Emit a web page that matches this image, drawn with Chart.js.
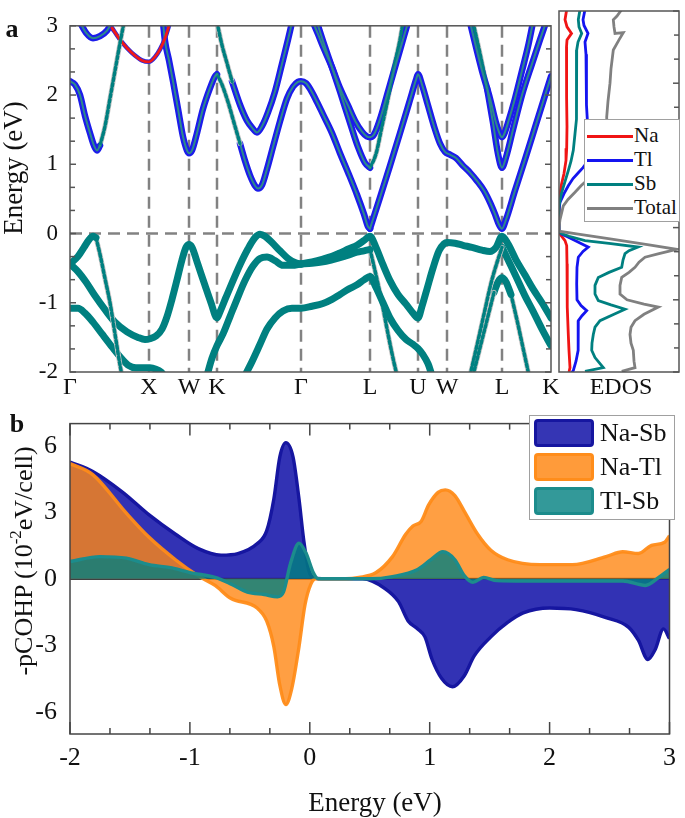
<!DOCTYPE html>
<html>
<head>
<meta charset="utf-8">
<script src="https://cdn.jsdelivr.net/npm/chart.js@4.4.0/dist/chart.umd.min.js"></script>
<style>
  body { margin: 0; background: #fff; width: 685px; height: 818px; position: relative; overflow: hidden; }
  canvas { position: absolute; }
  .lbl { position: absolute; font-family: "Liberation Serif", "Times New Roman", Times, serif; color: #111; white-space: nowrap; line-height: 1; }
  .rot { transform: translate(-50%, -50%) rotate(-90deg); }
  .ctr { transform: translate(-50%, -50%); }
  .legend { position: absolute; background: #fff; border: 1px solid #a0a0a0; }
  .legend .ln { position: absolute; height: 3px; }
  .legend .sw { position: absolute; box-sizing: border-box; border-width: 3px; border-style: solid; border-radius: 4px; }
  .legend .tx { position: absolute; font-family: "Liberation Serif", "Times New Roman", Times, serif; color: #111; line-height: 1; }
</style>
</head>
<body>
<canvas id="bandChart" width="685" height="400" style="left:0;top:0"></canvas>
<canvas id="dosChart" width="130" height="400" style="left:555px;top:0"></canvas>
<canvas id="cohpChart" width="685" height="423" style="left:0;top:395px"></canvas>

<div class="lbl ctr" style="left:12px;top:29px;font-size:26px;font-weight:bold">a</div>
<div class="lbl ctr" style="left:17px;top:424px;font-size:26px;font-weight:bold">b</div>
<div class="lbl rot" style="left:13px;top:168px;font-size:27px">Energy (eV)</div>
<div class="lbl ctr" style="left:621px;top:386px;font-size:24px">EDOS</div>
<div class="lbl rot" style="left:22px;top:561px;font-size:26px">-pCOHP (10<sup style="font-size:17px;vertical-align:11px">-2</sup>eV/cell)</div>
<div class="lbl ctr" style="left:375px;top:802px;font-size:27px">Energy (eV)</div>

<div class="legend" id="dosLegend" style="left:584px;top:119px;width:94px;height:101px"></div>
<div class="legend" id="cohpLegend" style="left:529px;top:415px;width:144px;height:103px"></div>

<script>
// ---- band structure: k path (px-like units along the path) and labels
const kPos = [0, 79, 119, 147, 231, 300, 348, 377, 432, 481];
const kLabels = ['Γ', 'X', 'W', 'K', 'Γ', 'L', 'U', 'W', 'L', 'K'];
const bandYTicks = [-2, -1, 0, 1, 2, 3];

// conduction bands [k, E]
const cbGXtop = [[10,3.05],[16,2.9],[23,2.82],[30,2.85],[37,2.93],[42,3.05]];
const cbGX = [[0,2.2],[5,2.15],[10,2.0],[15,1.7],[20,1.45],[24,1.27],[27,1.2],[30,1.27]];
const dotGX = [[30,1.27],[35,1.55],[40,1.95],[45,2.35],[50,2.75],[54,3.05]];
const redX = [[42,2.97],[50,2.8],[57,2.68],[65,2.57],[72,2.5],[79,2.48],[85,2.55],[90,2.66],[95,2.82],[100,3.05]];
const cbXWK = [[93,3.05],[95,2.78],[99,2.5],[103,2.2],[108,1.8],[113,1.4],[117,1.2],[119,1.16],[122,1.2],[127,1.45],[133,1.8],[140,2.1],[145,2.27],[147,2.3]];
const dotKG = [[147,2.3],[152,2.15],[158,1.9],[164,1.6],[170,1.3]];
const cbKGL = [[170,1.3],[175,1.05],[180,0.84],[185,0.69],[188,0.65],[192,0.7],[197,0.93],[203,1.25],[210,1.62],[217,1.95],[223,2.12],[228,2.19],[231,2.2],[236,2.17],[240,2.09],[247,1.9],[253,1.72],[262,1.45],[270,1.16],[279,0.85],[287,0.56],[294,0.28],[298,0.1],[300,0.07]];
const cbLUWLK = [[300,0.07],[310,0.52],[320,0.98],[330,1.45],[340,1.93],[346,2.22],[348,2.3],[352,2.15],[358,1.85],[364,1.55],[370,1.3],[375,1.18],[380,1.14],[386,1.09],[393,0.98],[400,0.88],[407,0.76],[414,0.62],[420,0.45],[425,0.28],[429,0.13],[432,0.07],[436,0.2],[445,0.62],[455,1.07],[465,1.53],[473,1.9],[481,2.27]];
const dotKtop = [[147,3.05],[152,2.72],[157,2.46],[162,2.2]];
const cbKG2 = [[162,2.2],[170,1.86],[177,1.63],[182,1.53],[187,1.46],[192,1.55],[198,1.75],[205,2.05],[212,2.45],[218,2.8],[222,3.05]];
const cbGL2 = [[243,3.05],[248,2.88],[253,2.7],[262,2.4],[270,2.1],[278,1.85],[285,1.63],[292,1.47],[297,1.4],[300,1.39],[304,1.43],[310,1.65],[318,2.05],[326,2.45],[334,2.85],[338,3.05]];
const cbGL3 = [[247,3.05],[253,2.78],[262,2.4],[270,2.05],[280,1.6],[288,1.25],[295,1.02],[300,0.95]];
const dotLU3 = [[300,0.95],[306,1.15],[312,1.55],[318,1.95],[324,2.4],[330,2.8],[333,3.05]];
const cbL2a = [[400,3.05],[405,2.75],[412,2.35],[420,1.95],[426,1.6],[430,1.43],[432,1.39],[434,1.43],[438,1.6],[445,1.95],[452,2.35],[458,2.7],[463,3.05]];
const dotL2b = [[403,3.05],[410,2.6],[417,2.1]];
const cbL2b = [[417,2.1],[423,1.6],[428,1.15],[432,0.95],[436,1.1],[443,1.5],[452,2.0],[462,2.45],[470,2.8],[476,3.05]];

// valence bands [k, E]
const vbGX = [[0,-0.44],[8,-0.33],[14,-0.2],[19,-0.09],[23,-0.04],[26,-0.06]];
const dotGXv = [[26,-0.06],[30,-0.3],[35,-0.65],[40,-1.0],[45,-1.45],[50,-1.9],[52,-2.05]];
const vbGXWKG = [[0,-0.44],[8,-0.55],[16,-0.7],[25,-0.9],[35,-1.1],[45,-1.28],[57,-1.42],[68,-1.5],[75,-1.53],[80,-1.52],[86,-1.48],[92,-1.38],[97,-1.2],[102,-0.95],[107,-0.67],[112,-0.38],[116,-0.2],[119,-0.16],[122,-0.2],[128,-0.45],[135,-0.75],[141,-1.0],[147,-1.22],[150,-1.13],[156,-0.92],[163,-0.68],[170,-0.45],[178,-0.22],[185,-0.06],[190,-0.01],[195,-0.04],[202,-0.13],[210,-0.25],[218,-0.36],[225,-0.42],[231,-0.44]];
const vbKG = [[137,-2.05],[142,-1.8],[147,-1.62],[153,-1.45],[160,-1.2],[167,-0.95],[175,-0.68],[183,-0.47],[190,-0.36],[197,-0.34],[205,-0.39],[213,-0.46],[222,-0.46],[231,-0.44]];
const vbGX2 = [[0,-1.08],[8,-1.08],[15,-1.15],[23,-1.28],[32,-1.45],[40,-1.6],[50,-1.78],[58,-1.9],[66,-1.94],[74,-1.94],[80,-1.94],[86,-1.96],[91,-2.0],[94,-2.05]];
const vbG2 = [[175,-2.05],[182,-1.85],[190,-1.6],[197,-1.38],[205,-1.22],[213,-1.12],[222,-1.08],[231,-1.08],[242,-1.05],[253,-1.01],[262,-0.95],[270,-0.88],[279,-0.8],[287,-0.74],[294,-0.67],[300,-0.62],[306,-0.78],[313,-1.0],[320,-1.22],[328,-1.4],[336,-1.53],[343,-1.6],[348,-1.66],[353,-1.75],[358,-1.88],[362,-2.05]];
const vbGL1 = [[231,-0.44],[242,-0.41],[253,-0.37],[262,-0.33],[270,-0.28],[279,-0.22],[287,-0.17],[294,-0.1],[300,-0.04],[306,-0.2],[313,-0.45],[320,-0.68],[328,-0.88],[336,-1.02],[343,-1.15],[348,-1.22],[352,-1.05],[357,-0.8],[363,-0.5],[369,-0.25],[374,-0.15],[377,-0.13],[385,-0.14],[393,-0.17],[402,-0.2],[412,-0.24],[420,-0.26],[426,-0.2],[432,-0.04],[438,-0.15],[446,-0.38],[455,-0.6],[463,-0.8],[472,-1.0],[481,-1.22]];
const vbGL2 = [[231,-0.44],[242,-0.43],[253,-0.41],[262,-0.38],[270,-0.35],[279,-0.31],[287,-0.27],[294,-0.25],[300,-0.23]];
const dotLU2 = [[300,-0.23],[306,-0.6],[312,-1.0],[318,-1.45],[323,-1.8],[327,-2.05]];
const dotL2a = [[400,-2.05],[408,-1.55],[415,-1.1],[421,-0.72],[427,-0.42],[432,-0.2]];
const vbL2a = [[432,-0.2],[438,-0.38],[446,-0.62],[455,-0.9],[463,-1.12],[472,-1.38],[481,-1.62]];
const dotL2bL = [[403,-2.05],[410,-1.65],[417,-1.25],[424,-0.85]];
const vbL2b = [[424,-0.85],[428,-0.7],[432,-0.64],[436,-0.7],[441,-0.88]];
const dotL2bR = [[441,-0.88],[447,-1.25],[453,-1.65],[459,-2.05]];

// ---- EDOS curves [density, E]
const dosNa = [[7.7,3.02],[6,2.88],[8,2.78],[12.5,2.69],[8,2.6],[7.5,2.5],[7.5,2.2],[7.7,1.8],[8,1.4],[7.7,1.1],[7,0.93],[5,0.75],[2.5,0.6],[1,0.47],[0.3,0.37],[0,0.3],[0,-0.05],[1,-0.09],[6,-0.18],[7.7,-0.25],[8,-0.5],[8,-0.9],[8.5,-1.1],[9.3,-1.48],[10,-1.7],[11,-1.94],[10,-2.0]];
const dosTl = [[26,3.02],[24,2.88],[25,2.8],[29,2.69],[26,2.57],[27,2.4],[27.7,2.16],[27,1.9],[27.7,1.7],[28.5,1.45],[29.3,1.24],[33,1.2],[37.7,1.12],[33,1.05],[29.3,0.93],[24,0.83],[19.3,0.76],[14,0.68],[9.3,0.58],[5,0.47],[1,0.35],[0,0.25],[0,-0.05],[2.7,-0.09],[9,-0.13],[16,-0.18],[25,-0.24],[29.3,-0.27],[24,-0.33],[19.3,-0.41],[18,-0.55],[17.7,-0.78],[18,-1.0],[22,-1.08],[27.7,-1.15],[23,-1.22],[19.3,-1.29],[19,-1.45],[19.3,-1.7],[17,-1.85],[14.3,-1.98],[12,-2.02]];
const dosSb = [[21,3.02],[19.3,2.88],[20,2.78],[22.7,2.69],[19,2.57],[17.7,2.46],[17.7,2.2],[17.7,1.76],[17,1.5],[16,1.3],[14.3,1.07],[12,0.92],[9.3,0.79],[6.5,0.66],[4.3,0.56],[2,0.45],[1,0.37],[0,0.3],[0,-0.05],[2,-0.08],[10,-0.12],[26,-0.18],[50,-0.22],[79,-0.27],[70,-0.32],[66,-0.36],[64,-0.45],[62.7,-0.55],[50,-0.62],[39.3,-0.69],[36,-0.8],[36,-0.92],[39.3,-1.01],[52,-1.07],[66,-1.13],[55,-1.2],[41,-1.29],[36,-1.38],[34.3,-1.48],[33,-1.6],[32.7,-1.7],[36,-1.8],[44.3,-1.94],[26,-1.99]];
const dosTotal = [[62.7,3.02],[58,2.93],[54.3,2.88],[55,2.78],[56,2.69],[64.3,2.7],[60,2.6],[54.3,2.46],[52,2.2],[51,2.0],[49,1.75],[47.7,1.53],[48,1.35],[52,1.22],[58,1.15],[64.3,1.1],[57,1.0],[52.7,0.9],[47,0.82],[42.7,0.76],[35,0.71],[29.3,0.67],[22,0.58],[16,0.49],[9,0.39],[4.3,0.3],[1,0.11],[0,0.0],[0,-0.05],[19.3,-0.09],[52.7,-0.16],[90,-0.24],[117.7,-0.3],[100,-0.36],[86,-0.41],[80,-0.48],[76,-0.55],[70,-0.62],[62.7,-0.69],[61,-0.8],[61,-0.92],[68,-1.0],[85,-1.06],[99.3,-1.1],[85,-1.2],[76,-1.29],[72,-1.38],[71,-1.48],[72,-1.6],[74.3,-1.7],[75,-1.85],[76,-1.94],[62.7,-1.99]];
const dosNames = ['Na', 'Tl', 'Sb', 'Total'];

// ---- pCOHP curves [E, value in 1e-2 eV/cell]
const cohpNaSb = [[-2,5.27],[-1.81,4.84],[-1.56,3.9],[-1.34,2.88],[-1.12,2.01],[-0.93,1.36],[-0.74,1.07],[-0.6,1.14],[-0.44,1.58],[-0.36,2.16],[-0.3,3.6],[-0.25,5.5],[-0.2,6.14],[-0.14,5.5],[-0.09,3.6],[-0.05,1.72],[-0.01,0.42],[0.03,0.05],[0.1,0],[0.44,0],[0.63,-0.45],[0.74,-1.03],[0.82,-1.9],[0.9,-2.26],[0.96,-2.62],[1.02,-3.64],[1.1,-4.5],[1.19,-4.87],[1.29,-4.36],[1.37,-3.49],[1.51,-2.62],[1.65,-1.97],[1.78,-1.54],[2.0,-1.32],[2.22,-1.39],[2.47,-1.75],[2.66,-2.19],[2.74,-2.77],[2.82,-3.64],[2.88,-3.2],[2.95,-2.26],[3.0,-2.7]];
const cohpNaTl = [[-2,5.2],[-1.81,4.7],[-1.53,2.96],[-1.34,1.87],[-1.12,0.86],[-0.93,0.13],[-0.79,-0.3],[-0.66,-0.88],[-0.44,-1.32],[-0.36,-1.9],[-0.3,-3.06],[-0.25,-4.8],[-0.2,-5.67],[-0.15,-4.94],[-0.09,-3.06],[-0.04,-1.17],[0.01,-0.23],[0.05,0],[0.3,0],[0.41,0.06],[0.55,0.27],[0.69,1.0],[0.8,2.01],[0.86,2.38],[0.93,2.6],[0.99,3.32],[1.07,3.9],[1.13,4.01],[1.21,3.75],[1.29,3.03],[1.4,2.01],[1.51,1.29],[1.65,0.86],[1.92,0.64],[2.19,0.64],[2.47,1.0],[2.61,1.22],[2.74,1.14],[2.85,1.51],[2.96,1.65],[3.0,1.94]];
const cohpTlSb = [[-2,0.78],[-1.75,1.0],[-1.53,0.93],[-1.34,0.64],[-1.15,0.49],[-0.99,0.27],[-0.79,0.06],[-0.66,-0.23],[-0.52,-0.6],[-0.38,-0.71],[-0.27,-0.81],[-0.22,-0.6],[-0.16,0.71],[-0.09,1.61],[-0.03,1.14],[0.03,0.27],[0.07,0],[0.5,0],[0.69,0.1],[0.9,0.42],[1.01,0.86],[1.11,1.22],[1.21,0.86],[1.29,0.13],[1.36,-0.16],[1.45,0.06],[1.56,-0.08],[1.78,-0.1],[2.33,-0.1],[2.61,-0.1],[2.8,-0.3],[2.91,0.06],[3.0,0.42]];
const cohpNames = ['Na-Sb', 'Na-Tl', 'Tl-Sb'];
const cohpYTicks = [-6, -3, 0, 3, 6];

// ---------------------------------------------------------------
const serif = '"Liberation Serif", "Times New Roman", Times, serif';
const toXY = arr => arr.map(p => ({ x: p[0], y: p[1] }));
const thirds = (lo, hi) => { const out = []; for (let i = lo * 3; i <= hi * 3; i++) out.push(i / 3); return out; };

// box, inward ticks and dashed guides
const framePlugin = {
  id: 'frame',
  beforeDatasetsDraw(chart, args, o) {
    if (!o.guides) return;
    const { ctx, chartArea: a, scales } = chart;
    ctx.save();
    ctx.strokeStyle = '#828282';
    ctx.lineWidth = 2.5;
    ctx.setLineDash([12, 7]);
    o.guides.x.forEach(v => {
      const p = scales.x.getPixelForValue(v);
      ctx.beginPath(); ctx.moveTo(p, a.top); ctx.lineTo(p, a.bottom); ctx.stroke();
    });
    o.guides.y.forEach(v => {
      const p = scales.y.getPixelForValue(v);
      ctx.beginPath(); ctx.moveTo(a.left, p); ctx.lineTo(a.right, p); ctx.stroke();
    });
    ctx.restore();
  },
  afterDatasetsDraw(chart, args, o) {
    const { ctx, chartArea: a, scales } = chart;
    ctx.save();
    ctx.strokeStyle = o.color || '#555';
    ctx.lineWidth = 1.5;
    (o.ticks || []).forEach(t => {
      const s = scales[t.scale];
      t.values.forEach(v => {
        const major = Math.abs(v - Math.round(v)) < 1e-6;
        const len = major ? t.major : t.minor;
        const p = s.getPixelForValue(v);
        ctx.beginPath();
        if (t.side === 'left') { ctx.moveTo(a.left, p); ctx.lineTo(a.left + len, p); }
        if (t.side === 'right') { ctx.moveTo(a.right, p); ctx.lineTo(a.right - len, p); }
        if (t.side === 'bottom') { ctx.moveTo(p, a.bottom); ctx.lineTo(p, a.bottom - len); }
        if (t.side === 'top') { ctx.moveTo(p, a.top); ctx.lineTo(p, a.top + len); }
        ctx.stroke();
      });
    });
    ctx.strokeRect(a.left, a.top, a.right - a.left, a.bottom - a.top);
    ctx.restore();
  }
};

// ---- band chart
const bandStyles = {
  cb:  [{ color: 'rgb(28,28,235)', width: 6.5 }, { color: 'rgb(45,138,138)', width: 2 }],
  red: [{ color: 'rgb(40,40,225)', width: 4.5 }, { color: 'rgb(240,25,25)', width: 2.8 }],
  vb:  [{ color: 'rgb(0,128,128)', width: 7 }],
  dot: [{ color: 'rgb(196,196,196)', width: 5 }, { color: 'rgb(0,128,128)', width: 3.5, dash: [3, 2.5] }]
};
const bandList = [
  [vbGX, 'vb'], [dotGXv, 'dot'], [vbGXWKG, 'vb'], [vbKG, 'vb'], [vbGX2, 'vb'], [vbG2, 'vb'],
  [vbGL1, 'vb'], [vbGL2, 'vb'], [dotLU2, 'dot'], [dotL2a, 'dot'], [vbL2a, 'vb'],
  [dotL2bL, 'dot'], [vbL2b, 'vb'], [dotL2bR, 'dot'],
  [cbGXtop, 'cb'], [cbGX, 'cb'], [dotGX, 'dot'], [redX, 'red'], [cbXWK, 'cb'], [dotKG, 'dot'],
  [cbKGL, 'cb'], [cbLUWLK, 'cb'], [dotKtop, 'dot'], [cbKG2, 'cb'], [cbGL2, 'cb'], [cbGL3, 'cb'],
  [dotLU3, 'dot'], [cbL2a, 'cb'], [dotL2b, 'dot'], [cbL2b, 'cb']
];
const bandDatasets = [];
bandList.forEach(([pts, style]) => {
  bandStyles[style].forEach((layer, li) => {
    bandDatasets.push({
      data: toXY(pts),
      borderColor: layer.color,
      borderWidth: layer.width,
      borderDash: layer.dash || [],
      borderCapStyle: 'round',
      pointRadius: 0,
      cubicInterpolationMode: 'monotone',
      clip: 0,
      order: 2 - li
    });
  });
});

new Chart(document.getElementById('bandChart'), {
  type: 'line',
  data: { datasets: bandDatasets },
  options: {
    responsive: false,
    animation: false,
    devicePixelRatio: 1,
    layout: { padding: { top: 11, right: 134, left: 0, bottom: 0 } },
    plugins: {
      legend: { display: false },
      tooltip: { enabled: false },
      frame: {
        guides: { x: kPos.slice(1, -1), y: [0] },
        ticks: [
          { scale: 'y', side: 'left', values: thirds(-2, 3), major: 6, minor: 5 },
          { scale: 'y', side: 'right', values: thirds(-2, 3), major: 6, minor: 5 }
        ]
      }
    },
    scales: {
      x: {
        type: 'linear', min: 0, max: 481,
        afterBuildTicks: s => { s.ticks = kPos.map(v => ({ value: v })); },
        afterFit: s => { s.height = 28; },
        grid: { display: false, drawTicks: false },
        border: { display: false },
        ticks: { autoSkip: false, maxRotation: 0, padding: 1, color: '#111', font: { family: serif, size: 24 },
          callback: (v, i) => kLabels[i] }
      },
      y: {
        type: 'linear', min: -2, max: 3,
        afterBuildTicks: s => { s.ticks = bandYTicks.map(v => ({ value: v })); },
        afterFit: s => { s.width = 70; },
        grid: { display: false, drawTicks: false },
        border: { display: false },
        ticks: { padding: 12, color: '#111', font: { family: serif, size: 23 } }
      }
    }
  },
  plugins: [framePlugin]
});

// ---- EDOS chart
const dosColors = ['rgb(240,20,20)', 'rgb(20,20,240)', 'rgb(0,128,128)', 'rgb(128,128,128)'];
const dosSeries = [dosNa, dosTl, dosSb, dosTotal];
new Chart(document.getElementById('dosChart'), {
  type: 'scatter',
  data: {
    datasets: dosSeries.map((s, i) => ({
      label: dosNames[i],
      data: toXY(s),
      showLine: true,
      borderColor: dosColors[i],
      borderWidth: 2.8,
      pointRadius: 0,
      clip: 0,
      order: 4 - i
    }))
  },
  options: {
    responsive: false,
    animation: false,
    devicePixelRatio: 1,
    layout: { padding: { top: 11, right: 6, left: 4, bottom: 28 } },
    plugins: {
      legend: { display: false },
      tooltip: { enabled: false },
      frame: { ticks: [{ scale: 'y', side: 'right', values: thirds(-2, 3), major: 6, minor: 5 }] }
    },
    scales: {
      x: { type: 'linear', min: 0, max: 120, display: false },
      y: { type: 'linear', min: -2, max: 3, display: false }
    }
  },
  plugins: [framePlugin]
});

// ---- pCOHP chart
const cohpSeries = [cohpNaSb, cohpNaTl, cohpTlSb];
const cohpFill = ['rgba(28,28,172,0.9)', 'rgba(255,135,20,0.8)', 'rgba(0,128,128,0.8)'];
const cohpLine = ['rgb(22,22,160)', 'rgba(255,140,25,0.95)', 'rgb(28,140,140)'];
const cohpDatasets = cohpSeries.map((s, i) => ({
  label: cohpNames[i],
  data: toXY(s),
  fill: 'origin',
  backgroundColor: cohpFill[i],
  borderColor: cohpLine[i],
  borderWidth: 3.4,
  pointRadius: 0,
  cubicInterpolationMode: 'monotone',
  clip: 0,
  order: 3 - i
}));
cohpDatasets.push({
  data: [{ x: -2, y: 0 }, { x: 3, y: 0 }],
  borderColor: '#000', borderWidth: 2, pointRadius: 0, fill: false, order: 5
});

new Chart(document.getElementById('cohpChart'), {
  type: 'line',
  data: { datasets: cohpDatasets },
  options: {
    responsive: false,
    animation: false,
    devicePixelRatio: 1,
    layout: { padding: { top: 17, right: 6, left: 0, bottom: 0 } },
    plugins: {
      legend: { display: false },
      tooltip: { enabled: false },
      frame: {
        color: '#444',
        ticks: [
          { scale: 'x', side: 'bottom', values: thirds(-2, 3), major: 12, minor: 6 },
          { scale: 'x', side: 'top', values: thirds(-2, 3), major: 12, minor: 6 }
        ]
      }
    },
    scales: {
      x: {
        type: 'linear', min: -2, max: 3,
        afterFit: s => { s.height = 84; },
        grid: { display: false, drawTicks: false },
        border: { display: false },
        ticks: { stepSize: 1, padding: 9, color: '#111', font: { family: serif, size: 26 } }
      },
      y: {
        type: 'linear', min: -7, max: 7,
        afterBuildTicks: s => { s.ticks = cohpYTicks.map(v => ({ value: v })); },
        afterFit: s => { s.width = 70; },
        grid: { display: false, drawTicks: false },
        border: { display: false },
        ticks: { padding: 13, color: '#111', font: { family: serif, size: 26 } }
      }
    }
  },
  plugins: [framePlugin]
});

// ---- legends (HTML text)
const dosLegend = document.getElementById('dosLegend');
dosNames.forEach((n, i) => {
  const y = 16 + i * 24;
  dosLegend.insertAdjacentHTML('beforeend',
    `<div class="ln" style="left:2px;width:46px;top:${y - 1.5}px;background:${dosColors[i]}"></div>` +
    `<div class="tx" style="left:49px;top:${y - 11}px;font-size:21px">${n}</div>`);
});
const cohpLegend = document.getElementById('cohpLegend');
const swFill = ['rgb(53,53,180)', 'rgb(255,155,58)', 'rgb(51,153,153)'];
cohpNames.forEach((n, i) => {
  const y = 17 + i * 34;
  cohpLegend.insertAdjacentHTML('beforeend',
    `<div class="sw" style="left:4px;width:60px;height:28px;top:${y - 14}px;background:${swFill[i]};border-color:${cohpLine[i]}"></div>` +
    `<div class="tx" style="left:70px;top:${y - 13}px;font-size:26px">${n}</div>`);
});
</script>
</body>
</html>
